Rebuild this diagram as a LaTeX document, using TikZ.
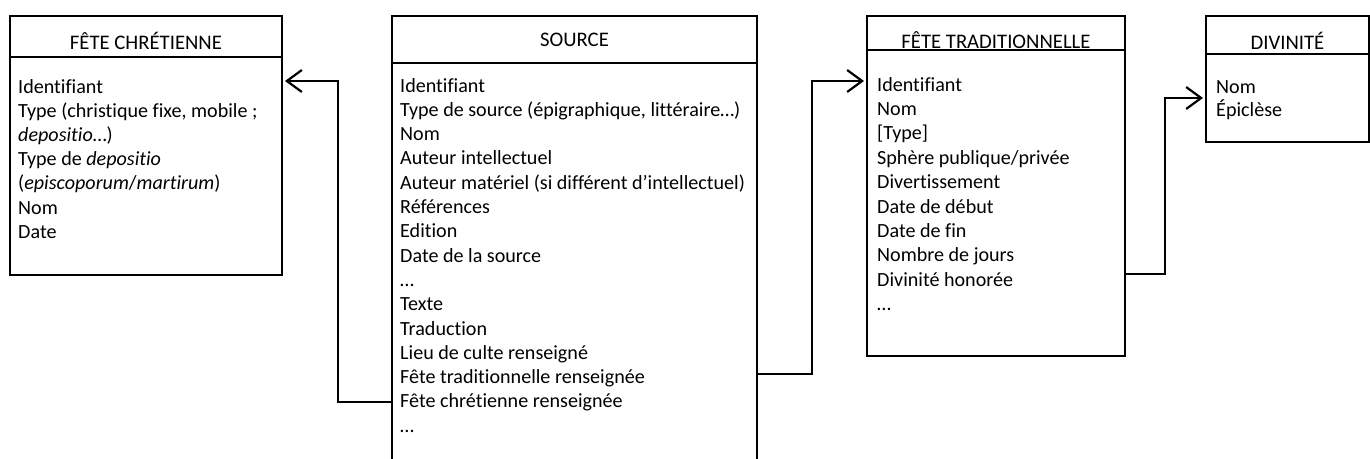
\documentclass[tikz,border=0pt]{standalone}
\usepackage{fontspec}
\setmainfont{Carlito}[Ligatures=NoCommon]
\usepackage{tikz}
\usetikzlibrary{arrows.meta, positioning}

\tikzset{
  tablebox/.style={draw, line width=1.2pt, anchor=north west, inner sep=0pt, outer sep=0pt},
  tabletitle/.style={font=\fontsize{20.7}{24}\selectfont, inner sep=0pt},
  rowtext/.style={font=\fontsize{20.1}{24}\selectfont, anchor=west, inner sep=0pt, text height=15pt, text depth=3pt},
  link/.style={line width=2.2pt, -{Straight Barb[length=15pt, width=22pt, line width=2.2pt]}, shorten >=3pt},
}

\begin{document}
\begin{tikzpicture}[x=1pt, y=-1pt]
\useasboundingbox (0,0) rectangle (1370,458);

% FETE CHRETIENNE
\node (fc_head) [tablebox, minimum width=272pt, minimum height=41pt] at (10,16) {};
\node (fc_body) [tablebox, minimum width=272pt, minimum height=218pt, below=0pt of fc_head] {};
\node (fc_title) [tabletitle] at (fc_head.north |- 0,41) {FÊTE CHRÉTIENNE};
\foreach \txt [count=\i from 0] in {Identifiant, {Type (christique fixe, mobile ;}, {\textit{depositio}…)},
    {Type de \textit{depositio}}, {(\textit{episcoporum}/\textit{martirum})}, Nom, Date}
  \node (fc_row\i) [rowtext] at (18, 87+\i*24.2) {\txt};

% SOURCE (open at the bottom)
\node (src_head) [tablebox, minimum width=365pt, minimum height=47pt] at (392,16) {};
\node (src_body) [tablebox, minimum width=365pt, minimum height=420pt, below=0pt of src_head] {};
\node (src_title) [tabletitle] at (src_head.north |- 0,40) {SOURCE};
\foreach \txt [count=\i from 0] in {Identifiant, {Type de source (épigraphique, littéraire…)}, Nom,
    Auteur intellectuel, {Auteur matériel (si différent d’intellectuel)}, Références, Edition,
    Date de la source, …, Texte, Traduction, Lieu de culte renseigné,
    Fête traditionnelle renseignée, Fête chrétienne renseignée, …}
  \node (src_row\i) [rowtext] at (400, 86+\i*24.3) {\txt};

% FETE TRADITIONNELLE
\node (tt_head) [tablebox, minimum width=258pt, minimum height=34pt] at (867,16) {};
\node (tt_body) [tablebox, minimum width=258pt, minimum height=306pt, below=0pt of tt_head] {};
\node (tt_title) [tabletitle] at (tt_head.north |- 0,40) {FÊTE TRADITIONNELLE};
\foreach \txt [count=\i from 0] in {Identifiant, Nom, [Type], Sphère publique/privée, Divertissement,
    Date de début, Date de fin, Nombre de jours, Divinité honorée, …}
  \node (tt_row\i) [rowtext] at (877, 85+\i*24.4) {\txt};

% DIVINITE
\node (dv_head) [tablebox, minimum width=163pt, minimum height=38pt] at (1206,16) {};
\node (dv_body) [tablebox, minimum width=163pt, minimum height=88pt, below=0pt of dv_head] {};
\node (dv_title) [tabletitle] at (dv_head.north |- 0,41) {DIVINITÉ};
\foreach \txt [count=\i from 0] in {Nom, Épiclèse}
  \node (dv_row\i) [rowtext] at (1216, 87+\i*23.4) {\txt};

% links
\coordinate (fc_in) at (fc_body.east |- 0,81);
\coordinate (tt_in) at (tt_body.west |- 0,81);
\coordinate (dv_in) at (dv_body.west |- 0,98);
\draw[link] (src_body.west |- src_row13.west) -- ++(-54,0) |- (fc_in);
\draw[link] ([yshift=4pt]src_body.east |- src_row12.east) -- ++(55,0) |- (tt_in);
\draw[link] ([yshift=6pt]tt_body.east |- tt_row8.east) -- ++(40,0) |- (dv_in);
\end{tikzpicture}
\end{document}
